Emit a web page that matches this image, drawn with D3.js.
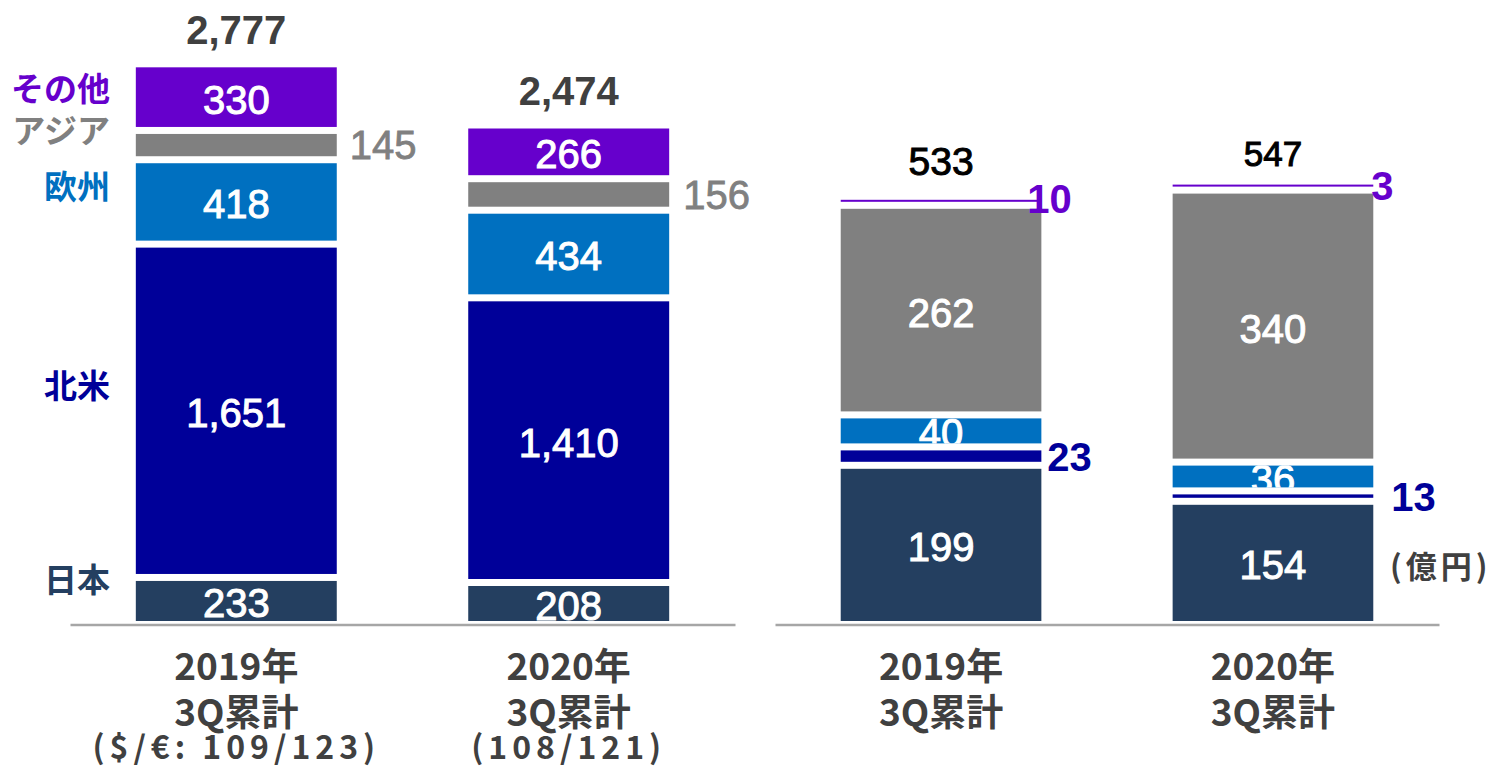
<!DOCTYPE html>
<html>
<head>
<meta charset="utf-8">
<script src="https://cdn.jsdelivr.net/npm/d3@7"></script>
<style>
  body { margin: 0; background: #fff; }
</style>
</head>
<body>
<div id="chart"></div>
<script>
// regions, stacked from the bottom up
let regions = ["日本", "北米", "欧州", "アジア", "その他"];
let regionColors = ["#243F60", "#000099", "#0070C0", "#808080", "#6600CC"];

let years = ["2019", "2020"];

// left panel: sales
let salesJapan = [233, 208];
let salesNorthAmerica = [1651, 1410];
let salesEurope = [418, 434];
let salesAsia = [145, 156];
let salesOther = [330, 266];
let salesTotals = ["2,777", "2,474"];
let salesTicks = [["2019年", "3Q累計", "($/€: 109/123)"], ["2020年", "3Q累計", "(108/121)"]];

// right panel: operating profit
let profitJapan = [199, 154];
let profitNorthAmerica = [23, 13];
let profitEurope = [40, 36];
let profitAsia = [262, 340];
let profitOther = [10, 3];
let profitTotals = ["533", "547"];
let profitTicks = [["2019年", "3Q累計"], ["2020年", "3Q累計"]];

let unitLabel = "(億円)";

// overall size
let svgWidth = 1495;
let svgHeight = 768;
let baseline = 624.5;
let gap = 3.5; // white gap on each side of a segment

let numFont = "'Liberation Sans', Arial, sans-serif";
let jpFont = "'Noto Sans CJK JP', 'Noto Sans', sans-serif";

let svg = d3.select("#chart")
  .append("svg")
  .attr("width", svgWidth)
  .attr("height", svgHeight);

function buildRows(japan, na, eu, asia, other) {
  return years.map((y, i) => ({
    year: y,
    "日本": japan[i],
    "北米": na[i],
    "欧州": eu[i],
    "アジア": asia[i],
    "その他": other[i]
  }));
}

let clipId = 0;

function drawPanel(opts) {
  let x = d3.scaleBand()
    .domain(years)
    .range(opts.xRange)
    .paddingInner(0.3955)
    .paddingOuter(0.198);

  let y = opts.yScale;
  let stacked = d3.stack().keys(regions)(opts.rows);

  let g = svg.append("g");

  // axis line only, tick text added by hand (multi-line)
  let xAxis = g.append("g")
    .attr("transform", `translate(0,${baseline})`)
    .call(d3.axisBottom(x).tickSize(0).tickSizeOuter(0).tickFormat(""));
  xAxis.select(".domain").attr("stroke", "#A6A6A6").attr("stroke-width", 2.5);

  years.forEach((yr, i) => {
    let cx = x(yr) + x.bandwidth() / 2;
    let lineY = [baseline + 55, baseline + 101, baseline + 134];
    opts.ticks[i].forEach((line, j) => {
      g.append("text")
        .attr("x", cx)
        .attr("y", lineY[j])
        .attr("text-anchor", "middle")
        .attr("font-family", jpFont)
        .attr("font-weight", "bold")
        .attr("font-size", j === 2 ? "32px" : "37px")
        .attr("letter-spacing", j === 2 ? "5px" : null)
        .attr("fill", "#404040")
        .text(line);
    });
  });

  // segments
  stacked.forEach((layer, li) => {
    let key = regions[li];
    layer.forEach((d, i) => {
      let yr = years[i];
      let top = y(d[1]) + gap;
      let bottom = y(d[0]) - gap;
      let h = bottom - top;
      if (h < 2) {
        top = Math.min(top, y(d[0]) - gap - 2);
        h = 2;
      }
      g.append("rect")
        .attr("x", x(yr))
        .attr("y", top)
        .attr("width", x.bandwidth())
        .attr("height", h)
        .attr("fill", regionColors[li]);

      let mid = (y(d[0]) + y(d[1])) / 2;
      let value = d[1] - d[0];
      let out = opts.outside[key];
      if (out) {
        g.append("text")
          .attr("x", x(yr) + x.bandwidth() + out.dx[i])
          .attr("y", mid + out.dy)
          .attr("dy", "0.36em")
          .attr("font-family", numFont)
          .attr("font-weight", out.bold ? "bold" : "normal")
          .attr("font-size", "40px")
          .attr("fill", regionColors[li])
          .attr("stroke", regionColors[li])
          .attr("stroke-width", out.bold ? 0 : 0.8)
          .text(value);
      } else {
        let id = "clip" + (clipId++);
        g.append("clipPath").attr("id", id)
          .append("rect")
          .attr("x", x(yr))
          .attr("y", top)
          .attr("width", x.bandwidth())
          .attr("height", h);
        g.append("text")
          .attr("clip-path", `url(#${id})`)
          .attr("x", x(yr) + x.bandwidth() / 2)
          .attr("y", mid + 2)
          .attr("dy", "0.36em")
          .attr("text-anchor", "middle")
          .attr("font-family", numFont)
          .attr("font-size", "40px")
          .attr("fill", "#fff")
          .attr("stroke", "#fff")
          .attr("stroke-width", 1)
          .text(d3.format(",")(value));
      }
    });
  });

  // totals above the bars
  let last = stacked[stacked.length - 1];
  years.forEach((yr, i) => {
    g.append("text")
      .attr("x", x(yr) + x.bandwidth() / 2)
      .attr("y", y(last[i][1]) - opts.totalOffset)
      .attr("text-anchor", "middle")
      .attr("font-family", numFont)
      .attr("font-weight", opts.totalWeight)
      .attr("font-size", opts.totalSizes[i] + "px")
      .attr("fill", opts.totalColor)
      .attr("stroke", opts.totalColor)
      .attr("stroke-width", opts.totalWeight === "bold" ? 0 : 1)
      .text(opts.totals[i]);
  });

  // region names next to the first bar
  if (opts.regionLabels) {
    stacked.forEach((layer, li) => {
      let d = layer[0];
      g.append("text")
        .attr("x", 110)
        .attr("y", (y(d[0]) + y(d[1])) / 2 + opts.regionLabels[li])
        .attr("dy", "0.36em")
        .attr("text-anchor", "end")
        .attr("font-family", jpFont)
        .attr("font-weight", "bold")
        .attr("font-size", "33px")
        .attr("fill", regionColors[li])
        .text(regions[li]);
    });
  }

  return g;
}

// left panel scale
let ySales = d3.scaleLinear().domain([0, 3000]).range([baseline, baseline - 3000 * 0.2019]);
drawPanel({
  rows: buildRows(salesJapan, salesNorthAmerica, salesEurope, salesAsia, salesOther),
  xRange: [70, 735],
  yScale: ySales,
  ticks: salesTicks,
  totals: salesTotals,
  totalSizes: [40, 40],
  totalWeight: "bold",
  totalColor: "#404040",
  totalOffset: 20,
  outside: { "アジア": { dx: [13, 14], dy: 0, bold: false } },
  regionLabels: [-21, -25, -15, -14, -8]
});

// right panel scale
let yProfit = d3.scaleLinear().domain([0, 600]).range([baseline, baseline - 600 * 0.8]);
let right = drawPanel({
  rows: buildRows(profitJapan, profitNorthAmerica, profitEurope, profitAsia, profitOther),
  xRange: [775, 1439],
  yScale: yProfit,
  ticks: profitTicks,
  totals: profitTotals,
  totalSizes: [39, 35],
  totalWeight: "normal",
  totalColor: "#000",
  totalOffset: 22,
  outside: {
    "その他": { dx: [-14, -2], dy: -3, bold: true },
    "北米": { dx: [6, 18], dy: 0, bold: true }
  },
  regionLabels: null
});

right.append("text")
  .attr("x", 1390)
  .attr("y", 567)
  .attr("dy", "0.36em")
  .attr("font-family", jpFont)
  .attr("font-weight", "bold")
  .attr("font-size", "31px")
  .attr("letter-spacing", "4px")
  .attr("fill", "#404040")
  .text(unitLabel);
</script>
</body>
</html>
